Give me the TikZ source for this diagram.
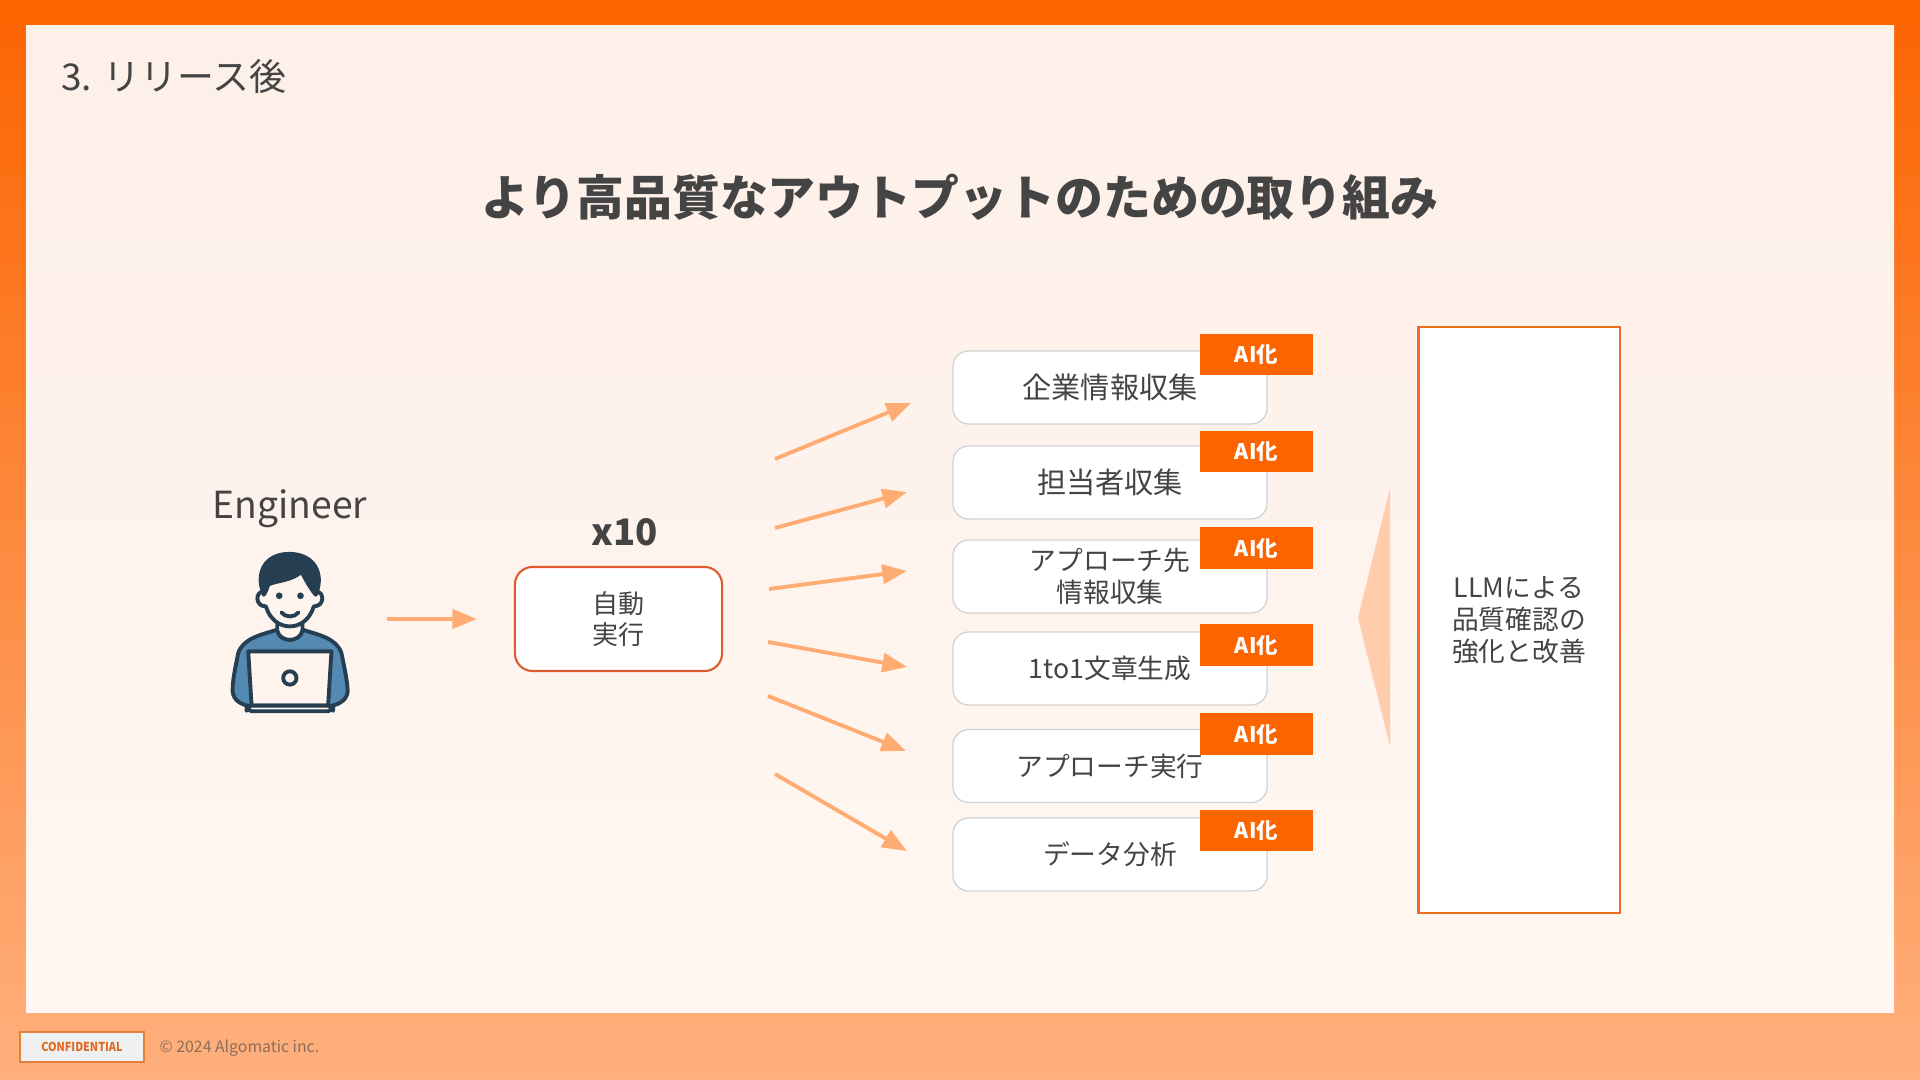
\documentclass[tikz,border=0pt]{standalone}
\usepackage{fontspec}
\usepackage{xcolor}
\usepackage{graphicx}
\usetikzlibrary{arrows.meta,positioning}
\setmainfont{Noto Sans CJK JP}
\definecolor{brandorange}{RGB}{252,100,0}
\definecolor{footorange}{RGB}{255,176,126}
\definecolor{paneltop}{RGB}{253,240,232}
\definecolor{panelbot}{RGB}{255,247,241}
\definecolor{arrowpeach}{RGB}{255,172,115}
\definecolor{wedgepeach}{RGB}{255,205,172}
\definecolor{inkgray}{RGB}{68,68,68}
\definecolor{iconnavy}{RGB}{38,62,82}
\definecolor{iconblue}{RGB}{84,137,178}
\definecolor{iconskin}{RGB}{255,245,238}
\definecolor{autoline}{RGB}{224,92,48}
\definecolor{qualityline}{RGB}{234,112,30}
\definecolor{stampline}{RGB}{226,128,60}
\definecolor{stampfill}{RGB}{238,240,242}
\definecolor{stamptext}{RGB}{226,104,30}

\begin{document}
\begin{tikzpicture}[
    x=0.01cm,y=-0.01cm,
    task/.style={rectangle,rounded corners=4.5pt,draw=black!18,line width=0.35pt,fill=white,
      minimum width=3.14cm,minimum height=0.73cm,inner sep=0pt,align=center,
      text=inkgray,font=\fontsize{7.6}{9}\selectfont},
    badge/.style={rectangle,fill=brandorange,minimum width=1.13cm,minimum height=0.41cm,inner sep=0pt,
      text=white,font=\fontsize{6.1}{7}\selectfont\bfseries},
    autobox/.style={rectangle,rounded corners=5pt,draw=autoline,line width=0.6pt,fill=white,
      minimum width=2.07cm,minimum height=1.04cm,inner sep=0pt,align=center,
      text=inkgray,font=\fontsize{7.4}{9}\selectfont},
    qualitybox/.style={rectangle,draw=qualityline,line width=0.6pt,fill=white,
      minimum width=2.01cm,minimum height=5.86cm,inner sep=0pt,align=center,
      text=inkgray,font=\fontsize{7.6}{9.1}\selectfont},
    arrow/.style={-{Triangle[length=7pt,width=5.4pt]},draw=arrowpeach,line width=1.1pt},
    icon/.style={draw=iconnavy,line width=1.1pt,line join=round,line cap=round}
  ]
    \useasboundingbox (0,0) rectangle (1920,1080);
    % backdrop
    \shade[top color=brandorange,bottom color=footorange] (0,0) rectangle (1920,1080);
    \shade[top color=paneltop,bottom color=panelbot] (26,26) rectangle (1894,1013);

    \node[anchor=west,text=inkgray,font=\fontsize{10.5}{12}\selectfont] (section) at (49,77) {3. リリース後};
    \node[text=inkgray,font=\fontsize{13.62}{16}\selectfont\bfseries] (title) at (960,197) {より高品質なアウトプットのための取り組み};

    % engineer
    \node[text=inkgray,font=\fontsize{10.6}{12}\selectfont] (engineer) at (290,509) {Engineer};
    \begin{scope}[shift={(190,460)},x=0.00333cm,y=-0.00333cm]
      \draw[icon,fill=iconblue] (262,510) .. controls (215,525) and (160,535) .. (145,580)
        .. controls (135,630) and (128,660) .. (128,695) .. controls (130,725) and (160,738) .. (185,740)
        -- (415,740) .. controls (440,738) and (472,725) .. (474,695)
        .. controls (472,660) and (465,630) .. (455,580) .. controls (440,535) and (385,525) .. (338,510)
        .. controls (330,550) and (270,550) .. (262,510) -- cycle;
      \draw[icon,fill=iconskin] (262,480) -- (262,512) .. controls (270,550) and (330,550) .. (338,512) -- (338,480) -- cycle;
      \draw[icon,fill=iconskin] (222,395) .. controls (195,395) and (195,440) .. (228,440)
        .. controls (240,480) and (270,500) .. (300,500) .. controls (330,500) and (360,480) .. (372,440)
        .. controls (405,440) and (405,395) .. (378,395) -- (370,340) -- (230,340) -- cycle;
      \draw[icon,fill=iconnavy] (222,405) .. controls (195,340) and (225,282) .. (298,282)
        .. controls (372,282) and (405,340) .. (378,405) .. controls (365,390) and (350,365) .. (335,335)
        .. controls (305,365) and (255,362) .. (235,375) .. controls (232,385) and (228,395) .. (222,405) -- cycle;
      \fill[iconnavy] (268,408) circle (10) (332,408) circle (10);
      \draw[icon] (275,458) .. controls (285,474) and (315,474) .. (326,458);
      \draw[icon,fill=iconskin] (175,575) -- (425,575) -- (415,738) -- (185,738) -- cycle;
      \draw[icon,fill=iconskin,rounded corners=1.5pt] (170,738) rectangle (430,755);
      \draw[icon] (300,655) circle (20);
    \end{scope}

    % run box
    \node[autobox] (auto) at (618.5,619) {自動\\実行};
    \node[text=inkgray,font=\fontsize{10.4}{12}\selectfont\bfseries] (times) at (625,532) {x10};
    \coordinate (engout) at (387,619);
    \coordinate (autoin) at (477,619);
    \draw[arrow] (engout) -- (autoin);

    % tasks
    \node[task,font=\fontsize{8.3}{9}\selectfont] (company) at (1110,387.5) {企業情報収集};
    \node[task,font=\fontsize{8.3}{9}\selectfont] (contact) at (1110,482.5) {担当者収集};
    \node[task] (target) at (1110,576.5) {アプローチ先\\情報収集};
    \node[task] (letter) at (1110,668.5) {1to1文章生成};
    \node[task] (approach) at (1110,766) {アプローチ実行};
    \node[task] (analysis) at (1110,854.5) {データ分析};

    \node[badge] (aicompany) at (1256.5,354.5) {AI化};
    \node[badge] (aicontact) at (1256.5,451.5) {AI化};
    \node[badge] (aitarget) at (1256.5,548) {AI化};
    \node[badge] (aiLetter) at (1256.5,645) {AI化};
    \node[badge] (aiapproach) at (1256.5,734) {AI化};
    \node[badge] (aianalysis) at (1256.5,830.5) {AI化};

    % fan of arrows
    \coordinate (a1) at (775,459);  \coordinate (b1) at (911,403);
    \coordinate (a2) at (775,528);  \coordinate (b2) at (907,492);
    \coordinate (a3) at (769,589);  \coordinate (b3) at (907,571);
    \coordinate (a4) at (768,642);  \coordinate (b4) at (907,667);
    \coordinate (a5) at (768,696);  \coordinate (b5) at (906,751);
    \coordinate (a6) at (775,774);  \coordinate (b6) at (907,851);
    \draw[arrow] (a1) -- (b1);
    \draw[arrow] (a2) -- (b2);
    \draw[arrow] (a3) -- (b3);
    \draw[arrow] (a4) -- (b4);
    \draw[arrow] (a5) -- (b5);
    \draw[arrow] (a6) -- (b6);

    % quality
    \node[qualitybox] (quality) at (1519,620) {LLMによる\\品質確認の\\強化と改善};
    \fill[wedgepeach] (1358,618) -- (1390,488) -- (1390,746) -- cycle;

    % footer
    \node[rectangle,draw=stampline,line width=0.4pt,fill=stampfill,minimum width=1.24cm,minimum height=0.3cm,
      inner sep=0pt,text=stamptext,font=\fontsize{3.5}{4}\selectfont\bfseries] (confidential) at (82,1047) {\scalebox{0.88}[1]{CONFIDENTIAL}};
    \node[anchor=west,inner sep=0pt,text=inkgray!62!footorange,font=\fontsize{4.5}{6}\selectfont] (copyright) at (159,1048) {© 2024 Algomatic inc.};
  \end{tikzpicture}
\end{document}
